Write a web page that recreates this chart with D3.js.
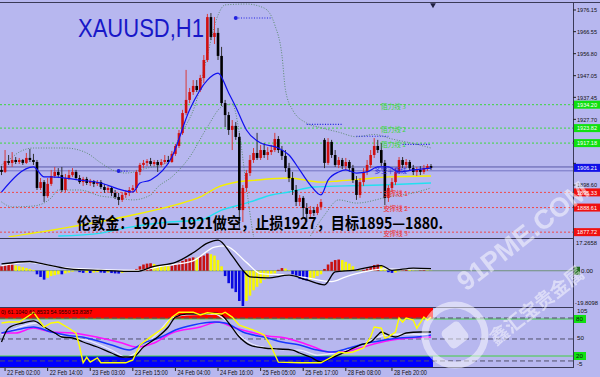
<!DOCTYPE html>
<html>
<head>
<meta charset="utf-8">
<script src="https://cdn.jsdelivr.net/npm/d3@7"></script>
<style>
  html, body { margin: 0; padding: 0; background: #b7b7ef; }
  svg { display: block; }
</style>
</head>
<body>
<svg id="chart" width="600" height="377"></svg>
<script>
// ---- data ----
const opens = [
  1905.3, 1904.4, 1909.2, 1908.4, 1909.7, 1908.8, 1909.7, 1908.4, 1910.6, 1909.7,
  1908.8, 1897.3, 1899.9, 1893.7, 1899.1, 1902.6, 1904.4, 1903.0, 1896.4, 1901.7,
  1903.0, 1904.4, 1901.7, 1899.9, 1901.3, 1899.5, 1900.4, 1899.1, 1899.9, 1897.7,
  1896.4, 1897.3, 1895.1, 1893.3, 1892.0, 1894.2, 1895.1, 1896.4, 1897.3, 1904.4,
  1907.5, 1908.4, 1909.2, 1907.9, 1908.8, 1907.5, 1908.8, 1909.7, 1908.8, 1912.4,
  1915.9, 1921.6, 1930.5, 1936.3, 1939.8, 1942.5, 1940.7, 1946.0, 1954.0, 1973.0,
  1964.2, 1966.0, 1955.8, 1934.9, 1929.6, 1923.0, 1924.8, 1919.9, 1887.5, 1897.3,
  1903.9, 1909.7, 1912.8, 1910.6, 1914.1, 1911.9, 1913.2, 1914.1, 1919.0, 1914.1,
  1911.5, 1906.1, 1901.7, 1896.4, 1891.1, 1892.9, 1888.4, 1885.8, 1887.5, 1886.2,
  1888.9, 1918.6, 1908.4, 1917.7, 1911.9, 1907.5, 1909.7, 1907.0, 1908.8, 1906.1,
  1900.8, 1894.2, 1899.9, 1904.4, 1907.5, 1911.9, 1915.9, 1914.1, 1908.4, 1892.9,
  1897.3, 1899.9, 1904.4, 1909.7, 1907.5, 1908.8, 1906.1, 1904.4, 1905.3, 1904.4,
  1906.1, 1907.0
];
const highs = [
  1907.0, 1914.1, 1911.9, 1913.2, 1911.0, 1910.6, 1910.1, 1912.8, 1914.6, 1912.4,
  1909.7, 1901.7, 1900.8, 1901.7, 1905.3, 1906.6, 1906.1, 1906.6, 1903.5, 1905.3,
  1906.1, 1905.3, 1903.0, 1902.2, 1902.2, 1901.3, 1900.8, 1900.8, 1900.8, 1899.1,
  1898.2, 1898.2, 1896.4, 1895.1, 1895.5, 1896.4, 1897.7, 1898.6, 1905.3, 1908.4,
  1909.7, 1910.1, 1910.6, 1909.7, 1909.7, 1910.1, 1911.9, 1911.5, 1913.7, 1916.8,
  1923.0, 1931.9, 1949.6, 1941.6, 1945.1, 1945.1, 1947.4, 1956.2, 1974.4, 1974.8,
  1973.0, 1968.2, 1959.8, 1936.3, 1931.0, 1927.4, 1926.5, 1921.7, 1898.6, 1905.3,
  1911.9, 1915.0, 1921.7, 1916.3, 1917.2, 1915.4, 1916.3, 1921.7, 1920.3, 1915.9,
  1914.1, 1908.4, 1904.4, 1898.6, 1894.2, 1893.7, 1890.6, 1889.3, 1888.9, 1890.2,
  1892.4, 1919.4, 1919.4, 1918.6, 1914.1, 1911.0, 1910.6, 1910.6, 1909.7, 1907.5,
  1902.6, 1901.7, 1906.1, 1909.7, 1914.1, 1919.4, 1918.6, 1917.2, 1909.7, 1898.6,
  1901.7, 1906.1, 1911.0, 1911.0, 1910.1, 1909.7, 1907.5, 1906.6, 1907.0, 1907.5,
  1907.9, 1907.9
];
const lows = [
  1903.0, 1903.9, 1907.5, 1906.6, 1907.9, 1907.9, 1907.5, 1907.9, 1908.8, 1907.5,
  1896.4, 1896.4, 1891.1, 1892.9, 1898.2, 1901.7, 1901.7, 1895.5, 1895.5, 1900.8,
  1902.2, 1900.8, 1899.1, 1898.2, 1898.6, 1898.2, 1897.7, 1898.2, 1896.8, 1895.1,
  1895.1, 1893.7, 1892.4, 1889.7, 1891.1, 1892.9, 1893.7, 1895.1, 1895.5, 1903.0,
  1906.1, 1907.0, 1907.0, 1907.0, 1904.4, 1906.6, 1907.9, 1907.9, 1908.4, 1911.5,
  1915.0, 1920.8, 1929.6, 1934.9, 1938.5, 1939.8, 1939.8, 1943.8, 1953.1, 1962.9,
  1961.1, 1954.0, 1933.6, 1924.3, 1920.8, 1914.1, 1918.6, 1879.6, 1882.2, 1895.5,
  1902.6, 1908.4, 1909.7, 1909.7, 1910.6, 1909.7, 1911.9, 1913.2, 1912.8, 1909.7,
  1904.4, 1899.9, 1894.2, 1889.3, 1889.3, 1884.0, 1882.2, 1884.4, 1884.9, 1885.3,
  1887.5, 1906.1, 1907.5, 1910.6, 1906.6, 1906.1, 1905.7, 1905.3, 1904.4, 1899.5,
  1892.0, 1892.9, 1898.2, 1903.0, 1906.1, 1910.6, 1912.8, 1907.0, 1889.7, 1891.1,
  1895.5, 1898.6, 1903.5, 1906.1, 1906.1, 1904.8, 1903.0, 1902.6, 1903.0, 1903.5,
  1904.8, 1905.3
];
const closes = [
  1904.4, 1909.2, 1908.4, 1909.7, 1908.8, 1909.7, 1908.4, 1910.6, 1909.7, 1908.8,
  1897.3, 1899.9, 1893.7, 1899.1, 1902.6, 1904.4, 1903.0, 1896.4, 1901.7, 1903.0,
  1904.4, 1901.7, 1899.9, 1901.3, 1899.5, 1900.4, 1899.1, 1899.9, 1897.7, 1896.4,
  1897.3, 1895.1, 1893.3, 1892.0, 1894.2, 1895.1, 1896.4, 1897.3, 1904.4, 1907.5,
  1908.4, 1909.2, 1907.9, 1908.8, 1907.5, 1908.8, 1909.7, 1908.8, 1912.4, 1915.9,
  1921.6, 1930.5, 1936.3, 1939.8, 1942.5, 1940.7, 1946.0, 1954.0, 1973.0, 1964.2,
  1966.0, 1955.8, 1934.9, 1929.6, 1923.0, 1924.8, 1919.9, 1887.5, 1897.3, 1903.9,
  1909.7, 1912.8, 1910.6, 1914.1, 1911.9, 1913.2, 1914.1, 1919.0, 1914.1, 1911.5,
  1906.1, 1901.7, 1896.4, 1891.1, 1892.9, 1888.4, 1885.8, 1887.5, 1886.2, 1888.9,
  1891.1, 1908.4, 1917.7, 1911.9, 1907.5, 1909.7, 1907.0, 1908.8, 1906.1, 1900.8,
  1894.2, 1899.9, 1904.4, 1907.5, 1911.9, 1915.9, 1914.1, 1908.4, 1892.9, 1897.3,
  1899.9, 1904.4, 1909.7, 1907.5, 1908.8, 1906.1, 1904.4, 1905.3, 1904.4, 1906.1,
  1907.0, 1906.21
];

// moving averages / bands on the price panel: [bar index, price]
const maBlue = [[0,1895.5],[9,1906.6],[12,1902.2],[14,1902.2],[22,1900.8],[28,1899.5],[33,1896.8],[37,1895.5],
  [39,1899.5],[42,1900.8],[48,1911.0],[53,1931.9],[58,1945.1],[61,1948.2],[64,1939.4],[66,1933.2],[69,1923.0],
  [73,1917.2],[78,1915.0],[81,1911.9],[84,1905.3],[87,1898.6],[90,1894.2],[92,1900.8],[95,1904.4],[97,1905.3],
  [100,1903.9],[103,1904.4],[106,1906.6],[109,1906.6],[112,1904.4],[116,1905.3],[121,1906.1]];
const maYellow = [[2,1875.6],[18,1879.6],[37,1885.3],[49,1889.8],[56,1893.3],[61,1897.7],[65,1899.5],
  [72,1900.8],[81,1901.7],[90,1899.9],[95,1900.4],[102,1901.3],[109,1902.2],[121,1902.6]];
const maCyan = [[16,1876.0],[28,1877.3],[35,1879.6],[47,1882.2],[56,1883.1],[62,1887.5],[66,1889.3],
  [70,1891.1],[76,1894.2],[81,1895.5],[88,1897.7],[97,1898.2],[107,1898.6],[121,1899.5]];
const bandUpper = [[0,1907.5],[2,1909.7],[5,1913.2],[9,1915.0],[18,1915.0],[24,1912.8],[28,1908.4],[32,1904.8],
  [35,1903.9],[41,1906.1],[47,1908.8],[50,1919.4],[55,1936.3],[58,1956.2],[61,1973.9],[63,1978.4],[69,1978.8],
  [74,1977.0],[77,1969.5],[79,1956.2],[80,1940.7],[82,1931.9],[86,1926.0],[90,1924.0],[95,1922.0],[100,1920.0],
  [105,1921.0],[110,1919.0],[116,1917.0],[121,1915.0]];
const bandLower = [[0,1891.1],[3,1888.9],[9,1889.3],[14,1892.9],[16,1896.4],[22,1896.4],[28,1893.7],[33,1892.9],
  [37,1892.0],[42,1894.2],[44,1897.7],[48,1902.2],[53,1911.0],[58,1924.3],[62,1933.2],[65,1934.5],[67,1921.7],
  [69,1897.7],[71,1876.0],[73,1865.4],[81,1861.0],[87,1876.0],[91,1885.3],[95,1892.0],[100,1890.6],[109,1893.3],
  [116,1895.1],[121,1897.3]];
// stepped blue dotted line: [from bar, to bar, price]
const stepLine = [[33,36,1904.8],[66,76,1972.6],[86,96,1925.5],[100,109,1920.2],[113,121,1916.6]];

// horizontal levels
const resistLevels = [1934.20, 1923.82, 1917.18];
const resistNames = ['阻力线 3', '阻力线 2', '阻力线 1'];
const supportLevels = [1895.33, 1888.61, 1877.72];
const supportNames = ['支撑线 1', '支撑线 2', '支撑线 3'];
const balanceLines = [1906.6, 1904.9];
const balanceName = '多空平衡线';
const bidPrice = 1906.21;
const priceTicks = [1976.15, 1966.55, 1956.80, 1947.05, 1937.45, 1927.70, 1917.95, 1908.20, 1898.60, 1888.85, 1879.10];

// MACD panel
const macdHist = [
  2.5, 3, 3.5, 3.5, 3, 2.5, 2, 1.5, 1, 0.5,
  -2, -3.5, -5, -4, -3, -2.5, -2, -2, -1.5, -1,
  -0.5, 0, -0.8, -1.2, -1.0, -1.3, -1.0, -0.8, -1.0, -1.2,
  -1.0, -1.3, -1.5, -1.6, -1.2, -0.8, -0.4, 0.2, 1, 2.5,
  3.5, 4, 4.2, 3.8, 3.2, 2.8, 2.6, 2.5, 2.8, 3.5,
  4.5, 5.5, 6.5, 7, 7.5, 7.3, 8, 8.5, 9.7, 9.3,
  8.5, 6, 2.5, -3, -7, -10, -12, -17, -19.8, -17,
  -14, -11, -9, -7, -5, -3.5, -2.5, -1.5, 0.5, 1.5,
  1.2, 0.3, -2, -3.5, -4.5, -5, -5.5, -5, -4, -3,
  -2, 1, 3.5, 5, 6, 6.3, 6, 5, 4, 2.5,
  0.5, 0.2, 0.5, 1.2, 2.2, 3.2, 3.5, 3, 1, -0.8,
  -1.2, -1, -0.3, 0.3, 0.5, 0.4, 0.2, 0.1, 0.2, 0.3,
  0.2, 0.1
];
const macdMain = [[0,3.8],[8,5.2],[10,4.5],[19,1.1],[28,0.2],[38,-0.4],[43,2.5],[49,4.7],[54,10.1],[58,15.5],
  [61,17.2],[65,8.3],[68,0.2],[70,-3.4],[75,-4.0],[81,-2.5],[86,-5.2],[91,-7.9],[94,-0.7],[99,0.2],[107,2.9],
  [110,0.2],[116,1.5],[121,1.2]];
const macdSignal = [[0,2.9],[8,4.7],[16,2.0],[27,0.7],[38,0.2],[46,2.9],[54,5.6],[60,13.3],[63,14.0],[69,4.7],
  [73,-1.6],[81,-2.5],[86,-4.0],[93,-6.1],[97,-3.4],[102,-0.7],[108,1.1],[113,0.7],[116,1.1],[121,1.0]];
const macdMax = 17.2658, macdMin = -19.8098;

// oscillator panel
const stochYellow = [[0,73.5],[2,75],[5,75],[8,86.5],[9,91],[10,83],[12,67],[14,73.5],[16,75],[19,65],[21,57],
  [22,35],[23,9],[24,18],[25,10],[27,17],[28,9],[35,9],[37,13.5],[39,38],[42,51],[46,67],[48,83],[50,91],[54,91],
  [56,86.5],[58,90],[60,89],[62,88],[63,91],[65,83],[67,70],[71,62],[74,54],[76,35],[78,10],[84,9],[90,9],
  [93,18.4],[95,26.5],[97,25],[99,26.5],[102,33],[104,51],[105,67],[107,65],[108,49],[109,51],[111,58.9],
  [112,81.6],[113,75],[114,81.6],[116,78.4],[117,65],[119,83],[120,78],[121,83]];
const stochBlack = [[0,42.7],[2,65.4],[6,73.5],[9,76.8],[12,67],[15,57.3],[17,50.8],[20,49.2],[23,42.7],[27,34.6],
  [31,24.9],[34,18.4],[37,18.4],[40,34.6],[44,50.8],[47,67],[49,83],[52,88],[56,88],[60,89.7],[62,86.5],[64,73.5],
  [67,50.8],[70,37.8],[74,33],[78,31.4],[82,29.7],[84,24.9],[87,18.4],[90,10.3],[93,16.8],[98,29.7],[101,37.8],
  [104,42.7],[106,54.1],[107,58.9],[109,54.1],[111,50.8],[114,57.3],[118,58.9],[121,58.9]];
const stochWhite = [[0,54.1],[5,67],[10,73.5],[14,58.9],[18,50.8],[24,45.9],[31,29.7],[35,18.4],[39,29.7],[44,57.3],
  [48,81.6],[52,86.5],[60,88.1],[63,78.4],[66,59],[70,41],[75,33],[82,29.7],[84,29.7],[89,21.6],[95,26.5],
  [101,37.8],[106,50.8],[109,54.1],[114,55.7],[121,54]];
const stochBlue = [[0,57.3],[4,62.2],[9,67],[14,58.9],[18,54.1],[24,49.2],[31,37.8],[36,29.7],[40,41.1],[45,50.8],
  [49,62.2],[54,70.3],[60,75],[63,73.5],[68,58.9],[75,49.2],[79,42.7],[84,37.8],[89,29.7],[93,26.5],[98,33],
  [103,41.1],[108,45.9],[112,49.2],[117,50.8],[121,54.1]];
const stochMagenta = [[0,57.3],[4,57.3],[9,65.4],[14,58.9],[20,57.3],[28,49.2],[34,41.1],[38,34.6],[43,41.1],
  [48,57.3],[56,67],[61,75],[65,67],[70,58.9],[75,52.4],[80,49.2],[84,42.7],[88,34.6],[92,26.5],[96,26.5],
  [101,33],[106,41.1],[110,45.9],[115,49.2],[121,50.8]];
const stochLevels = [80, 20];
const stochDashLevels = [81.6, 47.6, 12];
const stochScale = ['105', '-5'];
const stochLegend = '0) 61.1040 61.8533 54.9550 53.8387';

// time axis
const timeIdx = [1, 13, 25, 37, 49, 61, 73, 85, 97, 110];
const timeLabels = ['22 Feb 02:00', '22 Feb 14:00', '23 Feb 03:00', '23 Feb 15:00', '24 Feb 04:00',
  '24 Feb 16:00', '25 Feb 05:00', '25 Feb 17:00', '28 Feb 08:00', '28 Feb 20:00'];

const titleText = 'XAUUSD,H1';
const noteText = '伦敦金：1920—1921做空，止损1927，目标1895—1880.';

// ---- layout ----
const W = 600, H = 377;
const plotR = 573;
const mainTop = 3, mainBot = 237;
const macdTop = 240, macdBot = 306;
const stTop = 308, stBot = 367;
const BG = '#b7b7ef';
const BULL = '#d01010', BEAR = '#000000';
const CJK = '"Noto Sans CJK SC", sans-serif';
const LAT = '"Liberation Sans", Arial, sans-serif';
const AX = 6.2;   // axis font size

const x = d3.scaleLinear().domain([0, closes.length - 1]).range([1.5, 431]);
const yMain = d3.scaleLinear().domain([1875.57, 1979.25]).range([mainBot, mainTop]);
const yMacd = d3.scaleLinear().domain([macdMin, macdMax]).range([macdBot, macdTop]);
const ySt = d3.scaleLinear().domain([2.2, 97.8]).range([stBot, stTop]);
const lastX = x(closes.length - 1) + 2;

const svg = d3.select('#chart');
svg.append('rect').attr('width', W).attr('height', H).attr('fill', BG);

const defs = svg.append('defs');
function addClip(id, y0, y1) {
  defs.append('clipPath').attr('id', id)
    .append('rect').attr('x', 0).attr('y', y0).attr('width', plotR).attr('height', y1 - y0);
}
addClip('clip-main', mainTop, mainBot);
addClip('clip-macd', macdTop - 1, macdBot);
addClip('clip-st', stTop, stBot);

// small helper for text with a forced width
function txt(g, px, py, s, o) {
  const t = g.append('text').attr('x', px).attr('y', py).text(s)
    .attr('font-family', o.font || LAT).attr('font-size', o.size || AX)
    .attr('fill', o.fill || '#111');
  if (o.weight) t.attr('font-weight', o.weight);
  if (o.anchor) t.attr('text-anchor', o.anchor);
  if (o.len) t.attr('textLength', o.len).attr('lengthAdjust', 'spacingAndGlyphs');
  return t;
}

const smooth = (xs, ys) => d3.line().x(d => xs(d[0])).y(d => ys(d[1])).curve(d3.curveMonotoneX);
const straight = (xs, ys) => d3.line().x(d => xs(d[0])).y(d => ys(d[1]));

// ===== price panel =====
const gMain = svg.append('g').attr('clip-path', 'url(#clip-main)');

resistLevels.forEach(v => {
  gMain.append('line').attr('x1', 0).attr('x2', plotR).attr('y1', yMain(v)).attr('y2', yMain(v))
    .attr('stroke', '#3cd83c').attr('stroke-dasharray', '2,2');
});
supportLevels.forEach(v => {
  gMain.append('line').attr('x1', 0).attr('x2', plotR).attr('y1', yMain(v)).attr('y2', yMain(v))
    .attr('stroke', '#f04848').attr('stroke-dasharray', '2,2');
});
balanceLines.forEach((v, k) => {
  gMain.append('line').attr('x1', 0).attr('x2', plotR).attr('y1', yMain(v)).attr('y2', yMain(v))
    .attr('stroke', k === 0 ? '#5858a8' : '#7474c4').attr('stroke-width', 1);
});

// bands
[bandUpper, bandLower].forEach(b => {
  gMain.append('path').attr('d', smooth(x, yMain)(b)).attr('fill', 'none')
    .attr('stroke', '#5c8c70').attr('stroke-width', 1).attr('stroke-dasharray', '1,1.6');
});

// slow averages
gMain.append('path').attr('d', smooth(x, yMain)(maCyan)).attr('fill', 'none')
  .attr('stroke', '#22e0f0').attr('stroke-width', 1.4);
gMain.append('path').attr('d', smooth(x, yMain)(maYellow)).attr('fill', 'none')
  .attr('stroke', '#f4f000').attr('stroke-width', 1.4);

// candles
const bars = d3.range(closes.length).map(i => ({ i, o: opens[i], h: highs[i], l: lows[i], c: closes[i] }));
const cw = 2.6;
gMain.selectAll('line.wick').data(bars).join('line').attr('class', 'wick')
  .attr('x1', d => x(d.i)).attr('x2', d => x(d.i))
  .attr('y1', d => yMain(d.h)).attr('y2', d => yMain(d.l))
  .attr('stroke', d => d.c >= d.o ? '#d83a3a' : '#303030').attr('stroke-width', 1);
gMain.selectAll('rect.body').data(bars).join('rect').attr('class', 'body')
  .attr('x', d => x(d.i) - cw / 2)
  .attr('y', d => yMain(Math.max(d.o, d.c)))
  .attr('width', cw)
  .attr('height', d => Math.max(1, Math.abs(yMain(d.o) - yMain(d.c))))
  .attr('fill', d => d.c >= d.o ? BULL : BEAR);

// fast average
gMain.append('path').attr('d', smooth(x, yMain)(maBlue)).attr('fill', 'none')
  .attr('stroke', '#1010f0').attr('stroke-width', 1.2);

// stepped dotted line
stepLine.forEach(s => {
  gMain.append('line').attr('x1', x(s[0])).attr('x2', x(s[1])).attr('y1', yMain(s[2])).attr('y2', yMain(s[2]))
    .attr('stroke', '#2020e0').attr('stroke-width', 1.2).attr('stroke-dasharray', '1,1.6');
});
[stepLine[0], stepLine[1]].forEach(s => {
  gMain.append('circle').attr('cx', x(s[0])).attr('cy', yMain(s[2])).attr('r', 2).attr('fill', '#2020e0');
});

// level captions
const capX = x(107);
resistLevels.forEach((v, k) => txt(gMain, capX, yMain(v) + 4, resistNames[k], { font: CJK, size: 6.5, fill: '#3ad83a' }));
supportLevels.forEach((v, k) => txt(gMain, capX + 2, yMain(v) + 3.5, supportNames[k], { font: CJK, size: 6.5, fill: '#f03030' }));
txt(gMain, x(105), yMain(balanceLines[1]) + 2, balanceName, { font: CJK, size: 6.5, fill: '#2a2ae0' });

// title + note
txt(svg, 78, 37, titleText, { size: 26, fill: '#1818c8', len: 126 });
txt(svg, 77, 229, noteText, { font: CJK, size: 16, weight: 'bold', fill: '#000', len: 366 });

// ===== MACD panel =====
const gMacd = svg.append('g').attr('clip-path', 'url(#clip-macd)');
gMacd.append('line').attr('x1', 0).attr('x2', plotR).attr('y1', yMacd(0)).attr('y2', yMacd(0))
  .attr('stroke', '#6f907a').attr('stroke-width', 1.2);
gMacd.selectAll('rect.hist').data(macdHist).join('rect').attr('class', 'hist')
  .attr('x', (d, i) => x(i) - cw / 2).attr('width', cw)
  .attr('y', d => yMacd(Math.max(0, d)))
  .attr('height', d => Math.abs(yMacd(d) - yMacd(0)))
  .attr('fill', (d, i) => {
    const p = i > 0 ? macdHist[i - 1] : d;
    if (d >= 0) return d >= p ? '#c81010' : '#f8f800';
    return d <= p ? '#0808e0' : '#f8f800';
  });
gMacd.append('path').attr('d', smooth(x, yMacd)(macdSignal)).attr('fill', 'none')
  .attr('stroke', '#ffffff').attr('stroke-width', 1.3);
gMacd.append('path').attr('d', smooth(x, yMacd)(macdMain)).attr('fill', 'none')
  .attr('stroke', '#000000').attr('stroke-width', 1.3);

// ===== oscillator panel =====
const gSt = svg.append('g').attr('clip-path', 'url(#clip-st)');
gSt.append('rect').attr('x', 0).attr('width', lastX).attr('y', stTop).attr('height', ySt(80) - stTop).attr('fill', '#ff0000');
gSt.append('rect').attr('x', 0).attr('width', lastX).attr('y', ySt(20)).attr('height', stBot - ySt(20)).attr('fill', '#0000ff');
stochLevels.forEach(v => {
  gSt.append('line').attr('x1', 0).attr('x2', plotR).attr('y1', ySt(v)).attr('y2', ySt(v))
    .attr('stroke', '#40d040').attr('stroke-width', 1);
});
stochDashLevels.forEach(v => {
  gSt.append('line').attr('x1', 0).attr('x2', plotR).attr('y1', ySt(v)).attr('y2', ySt(v))
    .attr('stroke', '#50506a').attr('stroke-width', 1).attr('stroke-dasharray', '5,3');
});
[[stochWhite, '#e8e8ff', 1.3], [stochMagenta, '#ff10ff', 1.5], [stochBlue, '#1838ff', 1.5], [stochBlack, '#000', 1.3]]
  .forEach(([d, c, w]) => {
    gSt.append('path').attr('d', smooth(x, ySt)(d)).attr('fill', 'none').attr('stroke', c).attr('stroke-width', w);
  });
gSt.append('path').attr('d', straight(x, ySt)(stochYellow)).attr('fill', 'none')
  .attr('stroke', '#ffff00').attr('stroke-width', 1.4);
txt(svg, 1, 314, stochLegend, { size: 6, fill: '#200000', len: 91 });

// ===== frames =====
const frame = svg.append('g').attr('stroke', '#3a3a58').attr('stroke-width', 1).attr('shape-rendering', 'crispEdges');
frame.append('line').attr('x1', 0).attr('x2', W).attr('y1', 2.5).attr('y2', 2.5);
frame.append('line').attr('x1', plotR + 0.5).attr('x2', plotR + 0.5).attr('y1', 2).attr('y2', stBot + 1);
frame.append('line').attr('x1', 0).attr('x2', plotR).attr('y1', mainBot + 1.5).attr('y2', mainBot + 1.5);
frame.append('line').attr('x1', 0).attr('x2', plotR).attr('y1', macdBot + 1.5).attr('y2', macdBot + 1.5);
frame.append('line').attr('x1', 0).attr('x2', plotR).attr('y1', stBot + 0.5).attr('y2', stBot + 0.5);
svg.append('path').attr('d', d3.symbol(d3.symbolTriangle, 14)()).attr('fill', '#202040')
  .attr('transform', `translate(${lastX},5) rotate(180)`);

// ===== right axis =====
const axR = svg.append('g');
const boxLevels = resistLevels.concat(supportLevels, [bidPrice]);
priceTicks.forEach(v => {
  axR.append('line').attr('x1', plotR).attr('x2', plotR + 3).attr('y1', yMain(v)).attr('y2', yMain(v)).attr('stroke', '#222');
  // labels that sit under a coloured price box are hidden, as on the terminal
  if (boxLevels.some(b => Math.abs(yMain(b) - yMain(v)) < 6)) return;
  txt(axR, plotR + 4, yMain(v) + 2.2, v.toFixed(2), { len: 20 });
});
function priceBox(v, ys, fill, s) {
  axR.append('rect').attr('x', plotR + 1).attr('y', ys(v) - 4).attr('width', W - plotR - 1).attr('height', 8).attr('fill', fill);
  txt(axR, plotR + 4, ys(v) + 2.2, s, { fill: '#fff', len: 20 });
}
resistLevels.forEach(v => priceBox(v, yMain, '#10e010', v.toFixed(2)));
supportLevels.forEach(v => priceBox(v, yMain, '#f01010', v.toFixed(2)));
priceBox(bidPrice, yMain, '#1010e8', bidPrice.toFixed(2));

txt(axR, plotR + 3, macdTop + 5, macdMax.toFixed(4), { len: 21 });
axR.append('rect').attr('x', plotR + 1).attr('y', yMacd(0) - 4).attr('width', 6).attr('height', 8).attr('fill', '#206a20');
txt(axR, plotR + 8, yMacd(0) + 2.2, '0.00', {});
txt(axR, plotR + 2, macdBot - 1, macdMin.toFixed(4), { len: 23 });

stochLevels.forEach(v => {
  axR.append('rect').attr('x', plotR + 1).attr('y', ySt(v) - 4).attr('width', 12).attr('height', 8).attr('fill', '#10e010');
  txt(axR, plotR + 3, ySt(v) + 2.2, String(v), {});
});
txt(axR, plotR + 4, ySt(50) + 2.2, '50', {});
txt(axR, plotR + 4, stTop + 5, stochScale[0], {});
txt(axR, plotR + 4, stBot - 1, stochScale[1], {});

// ===== time axis =====
const axB = svg.append('g');
timeIdx.forEach((ix, k) => {
  axB.append('line').attr('x1', x(ix)).attr('x2', x(ix)).attr('y1', stBot + 1).attr('y2', stBot + 4).attr('stroke', '#222');
  txt(axB, x(ix) + 2, 375, timeLabels[k], { size: 6.5, len: 33 });
});

// ===== watermark =====
const wm = svg.append('g').attr('opacity', 0.5);
wm.append('circle').attr('cx', 455).attr('cy', 335).attr('r', 30).attr('fill', 'none')
  .attr('stroke', '#ffffff').attr('stroke-width', 7);
wm.append('rect').attr('x', 444).attr('y', 324).attr('width', 22).attr('height', 22).attr('rx', 5)
  .attr('fill', '#ffffff').attr('transform', 'rotate(-38,455,335)');
txt(wm, 0, 0, '91PME.COM', { size: 27, weight: 'bold', fill: '#ffffff' })
  .attr('transform', 'translate(466,292) rotate(-38)');
txt(wm, 0, 0, '鑫汇宝贵金属', { font: CJK, size: 19, weight: 'bold', fill: '#ffffff' })
  .attr('transform', 'translate(496,346) rotate(-38)');
</script>
</body>
</html>
